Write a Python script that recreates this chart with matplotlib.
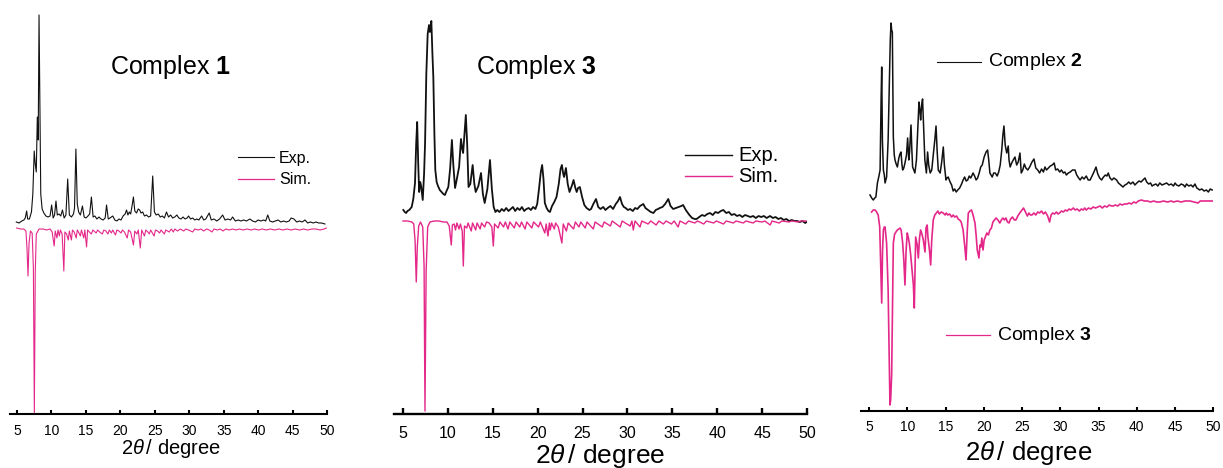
import numpy as np
import matplotlib
matplotlib.use("Agg")
import matplotlib.pyplot as plt
from matplotlib.lines import Line2D

plt.rcParams['font.family'] = ['Liberation Sans', 'DejaVu Sans']
plt.rcParams['mathtext.fontset'] = 'custom'
plt.rcParams['mathtext.rm'] = 'Liberation Sans'
plt.rcParams['mathtext.it'] = 'Liberation Sans:italic'
plt.rcParams['mathtext.bf'] = 'Liberation Sans:bold'

# ---- données (2theta, intensité relative) ----
ticks = [5, 10, 15, 20, 25, 30, 35, 40, 45, 50]

# Complex 1 : expérimental
exp1 = [(4.9, 2), (5.3, 1), (5.7, 3), (6.0, 4), (6.2, 6), (6.4, 13), (6.55, 5), (6.8, 5), (7.1, 12),
        (7.3, 30), (7.5, 73), (7.65, 60), (7.8, 52), (7.95, 107), (8.08, 84), (8.2, 209), (8.32, 120),
        (8.45, 30), (8.65, 15), (8.9, 11), (9.2, 8), (9.5, 7), (9.8, 8), (10.03, 19), (10.25, 6),
        (10.45, 9), (10.66, 23), (10.85, 9), (11.1, 10), (11.35, 8), (11.6, 14), (11.85, 6), (12.1, 9),
        (12.36, 45), (12.6, 9), (12.9, 7), (13.2, 10), (13.35, 16), (13.55, 75), (13.75, 20), (13.95, 12),
        (14.2, 9), (14.5, 18), (14.75, 7), (15.0, 6), (15.3, 8), (15.55, 10), (15.8, 27), (16.05, 7),
        (16.3, 8), (16.6, 5), (16.9, 7), (17.2, 5), (17.5, 4), (17.8, 6), (18.0, 19), (18.25, 5),
        (18.5, 6), (18.9, 8), (19.2, 4), (19.5, 3), (19.8, 5), (20.1, 4), (20.4, 8), (20.7, 10),
        (20.9, 14), (21.1, 9), (21.3, 12), (21.5, 10), (21.7, 18), (21.9, 27), (22.1, 13), (22.35, 11),
        (22.6, 15), (22.8, 14), (23.0, 11), (23.25, 12), (23.5, 8), (23.8, 9), (24.1, 7), (24.4, 8),
        (24.7, 48), (24.95, 12), (25.2, 9), (25.5, 10), (25.8, 7), (26.1, 8), (26.4, 6), (26.7, 12),
        (27.0, 7), (27.3, 9), (27.6, 6), (27.9, 7), (28.2, 9), (28.5, 6), (28.8, 5), (29.1, 7),
        (29.4, 5), (29.7, 6), (29.9, 8), (30.2, 5), (30.5, 6), (30.8, 4), (31.1, 5), (31.4, 4),
        (31.8, 8), (32.1, 4), (32.4, 5), (32.9, 11), (33.2, 4), (33.6, 5), (34.0, 3), (34.4, 5),
        (34.85, 9), (35.2, 4), (35.6, 5), (36.0, 4), (36.3, 7), (36.7, 3), (37.1, 4), (37.5, 3),
        (37.9, 4), (38.3, 3), (38.8, 5), (39.2, 3), (39.6, 2), (40.0, 4), (40.4, 3), (40.8, 4),
        (41.1, 3), (41.4, 9), (41.7, 3), (42.1, 2), (42.5, 3), (42.9, 4), (43.3, 2), (43.7, 3),
        (44.1, 2), (44.5, 3), (44.8, 6), (45.2, 5), (45.6, 2), (46.0, 3), (46.4, 2), (46.8, 4),
        (47.2, 1), (47.6, 2), (48.0, 1), (48.4, 2), (48.8, 1), (49.2, 1), (49.7, 0)]

# Complex 1 : simulé
sim1 = [(4.95, 0), (5.5, 1), (6.0, 1), (6.3, 3), (6.45, 20), (6.6, 48), (6.75, 15), (6.95, 3), (7.2, 5),
        (7.38, 40), (7.52, 185), (7.65, 45), (7.8, 6), (8.2, 1), (8.8, 1), (9.3, 2), (9.8, 1), (10.1, 4),
        (10.4, 18), (10.55, 3), (10.8, 10), (10.95, 2), (11.15, 8), (11.3, 2), (11.55, 6), (11.8, 43),
        (11.95, 4), (12.2, 6), (12.45, 12), (12.6, 3), (12.9, 12), (13.05, 2), (13.3, 4), (13.6, 10),
        (13.75, 2), (14.0, 5), (14.2, 8), (14.35, 2), (14.7, 10), (14.85, 2), (15.1, 19), (15.25, 2),
        (15.5, 4), (15.8, 6), (16.0, 2), (16.5, 5), (16.7, 2), (17.0, 4), (17.4, 6), (17.6, 2),
        (17.9, 3), (18.2, 6), (18.4, 2), (18.7, 5), (18.9, 2), (19.3, 7), (19.5, 2), (19.8, 3),
        (20.1, 5), (20.3, 2), (20.6, 4), (21.0, 10), (21.2, 2), (21.5, 4), (21.9, 17), (22.1, 3),
        (22.4, 6), (22.6, 2), (22.9, 20), (23.1, 2), (23.5, 8), (23.7, 2), (24.0, 4), (24.2, 6),
        (24.4, 2), (24.9, 8), (25.1, 2), (25.4, 3), (25.7, 5), (25.9, 2), (26.4, 6), (26.6, 2),
        (27.1, 4), (27.4, 1), (27.7, 4), (27.9, 1), (28.3, 3), (28.7, 1), (29.2, 3), (29.5, 1),
        (29.9, 2), (30.5, 4), (30.8, 1), (31.3, 2), (31.7, 1), (32.1, 3), (32.5, 1), (32.9, 2),
        (33.3, 4), (33.6, 1), (34.1, 2), (34.5, 1), (34.9, 3), (35.3, 1), (35.8, 2), (36.3, 1),
        (36.8, 2), (37.3, 1), (37.8, 2), (38.4, 1), (39.0, 2), (39.5, 1), (40.1, 2), (40.6, 1),
        (41.2, 2), (41.8, 1), (42.4, 2), (43.0, 1), (43.6, 2), (44.2, 1), (44.8, 2), (45.4, 1),
        (46.0, 2), (46.6, 1), (47.2, 2), (47.8, 1), (48.4, 1), (49.0, 2), (49.6, 1), (49.9, 0)]

# Complex 3 : expérimental
exp3 = [(5.04, 14), (5.2, 12), (5.35, 11), (5.5, 13), (5.7, 14), (5.97, 17), (6.15, 25), (6.34, 41),
        (6.47, 80), (6.58, 102), (6.7, 60), (6.8, 32), (6.92, 42), (7.02, 38), (7.2, 24), (7.35, 50),
        (7.46, 81), (7.6, 150), (7.75, 190), (7.9, 199), (8.0, 192), (8.16, 203), (8.28, 170),
        (8.38, 147), (8.5, 90), (8.6, 54), (8.75, 42), (8.9, 38), (9.1, 34), (9.3, 32), (9.5, 30),
        (9.67, 29), (9.85, 33), (10.05, 37), (10.25, 55), (10.45, 84), (10.6, 60), (10.8, 36),
        (11.0, 45), (11.25, 57), (11.46, 85), (11.6, 75), (11.7, 71), (11.85, 90), (12.0, 109),
        (12.15, 80), (12.3, 37), (12.5, 40), (12.76, 59), (12.95, 40), (13.1, 32), (13.4, 38),
        (13.69, 51), (13.9, 30), (14.1, 21), (14.4, 35), (14.69, 64), (14.9, 35), (15.1, 17),
        (15.3, 12), (15.5, 14), (15.75, 12), (16.0, 15), (16.25, 13), (16.5, 16), (16.75, 13),
        (17.0, 15), (17.25, 17), (17.5, 13), (17.75, 16), (18.0, 14), (18.25, 17), (18.5, 13),
        (18.75, 15), (19.0, 16), (19.25, 14), (19.5, 17), (19.75, 15), (19.95, 20), (20.15, 35),
        (20.35, 52), (20.5, 59), (20.65, 45), (20.8, 21), (21.0, 16), (21.2, 13), (21.37, 12),
        (21.6, 18), (21.85, 22), (22.1, 27), (22.35, 40), (22.55, 55), (22.7, 59), (22.85, 50),
        (22.95, 47), (23.15, 56), (23.35, 40), (23.55, 32), (23.8, 38), (24.0, 44), (24.2, 36),
        (24.35, 32), (24.5, 36), (24.7, 37), (24.95, 27), (25.2, 19), (25.45, 16), (25.76, 14),
        (25.95, 15), (26.2, 20), (26.5, 25), (26.75, 17), (27.0, 15), (27.3, 17), (27.55, 14),
        (27.8, 16), (28.1, 18), (28.4, 15), (28.7, 20), (28.95, 23), (29.17, 27), (29.4, 20),
        (29.6, 17), (29.8, 16), (30.05, 14), (30.3, 15), (30.6, 13), (30.85, 16), (31.1, 15),
        (31.4, 18), (31.77, 20), (32.0, 16), (32.3, 14), (32.6, 12), (32.9, 11), (33.15, 14),
        (33.4, 15), (33.6, 16), (33.9, 17), (34.2, 20), (34.55, 25), (34.8, 18), (35.1, 15),
        (35.4, 16), (35.7, 17), (36.0, 18), (36.2, 19), (36.5, 14), (36.9, 9), (37.2, 6), (37.5, 5),
        (37.7, 5), (38.0, 7), (38.3, 9), (38.6, 8), (38.9, 10), (39.2, 11), (39.5, 9), (39.8, 12),
        (40.1, 11), (40.4, 13), (40.68, 14), (41.0, 11), (41.3, 12), (41.6, 9), (41.9, 10), (42.2, 8),
        (42.5, 9), (42.8, 7), (43.1, 9), (43.4, 8), (43.7, 7), (44.0, 8), (44.3, 6), (44.6, 8),
        (44.9, 7), (45.2, 8), (45.5, 6), (45.88, 8), (46.2, 6), (46.5, 7), (46.8, 5), (47.1, 6),
        (47.4, 4), (47.7, 5), (48.0, 3), (48.3, 4), (48.6, 3), (48.9, 3), (49.2, 2), (49.5, 3),
        (49.8, 1), (49.95, 2)]

# Complex 3 : simulé
sim3 = [(5.0, 0), (5.5, 0), (6.0, 1), (6.2, 3), (6.35, 20), (6.48, 61), (6.6, 25), (6.75, 5), (6.95, 1),
        (7.2, 6), (7.35, 45), (7.45, 190), (7.58, 50), (7.75, 6), (8.0, 1), (8.5, 0), (9.0, 0),
        (9.5, 1), (9.9, 1), (10.15, 5), (10.38, 24), (10.5, 4), (10.7, 3), (10.85, 9), (11.0, 2),
        (11.25, 8), (11.4, 3), (11.6, 10), (11.72, 45), (11.85, 5), (12.1, 7), (12.25, 2), (12.6, 10),
        (12.75, 2), (13.1, 9), (13.25, 2), (13.6, 8), (13.75, 2), (14.1, 6), (14.3, 1), (14.6, 2),
        (14.9, 6), (15.06, 25), (15.2, 3), (15.6, 7), (15.8, 1), (16.2, 6), (16.4, 1), (16.7, 8),
        (16.9, 1), (17.4, 7), (17.6, 1), (18.0, 6), (18.2, 1), (18.6, 8), (18.8, 1), (19.35, 7),
        (19.55, 1), (20.1, 6), (20.3, 1), (20.8, 12), (20.95, 3), (21.15, 15), (21.3, 2), (21.4, 9),
        (21.55, 2), (21.85, 8), (22.0, 2), (22.3, 6), (22.5, 14), (22.7, 22), (22.85, 3), (23.2, 10),
        (23.4, 2), (24.0, 8), (24.2, 1), (24.6, 6), (24.8, 1), (25.3, 7), (25.5, 1), (26.2, 8),
        (26.4, 1), (27.2, 6), (27.4, 1), (28.1, 5), (28.3, 0), (29.2, 6), (29.4, 0), (30.3, 5),
        (30.5, 0), (30.65, 9), (30.85, 0), (31.4, 6), (31.6, 0), (32.3, 3), (32.6, 0), (33.2, 4),
        (33.5, 0), (34.0, 3), (34.3, 0), (34.9, 3), (35.2, 0), (35.65, 6), (35.85, 0), (36.5, 3),
        (36.8, 0), (37.5, 2), (37.8, 0), (38.5, 3), (38.8, 0), (39.6, 2), (39.9, 0), (40.7, 3),
        (41.0, 0), (41.8, 2), (42.1, 0), (42.9, 2), (43.2, 0), (44.0, 2), (44.3, 0), (45.0, 1),
        (45.3, 0), (45.9, 4), (46.1, 0), (46.9, 2), (47.2, 0), (48.0, 1), (48.3, 0), (49.0, 1),
        (49.3, 0), (49.9, 0)]

# Complex 2 : expérimental
exp2 = [(5.13, 5), (5.35, 2), (5.56, 0), (5.75, 2), (5.9, 3), (6.1, 17), (6.3, 24), (6.45, 30),
        (6.58, 100), (6.66, 133), (6.75, 60), (6.88, 30), (7.0, 25), (7.1, 17), (7.3, 23), (7.5, 60),
        (7.66, 117), (7.78, 160), (7.88, 177), (7.96, 170), (8.05, 168), (8.18, 63), (8.3, 45),
        (8.4, 40), (8.55, 36), (8.71, 33), (8.9, 42), (9.05, 46), (9.18, 48), (9.3, 36), (9.4, 30),
        (9.55, 32), (9.7, 37), (9.9, 45), (10.05, 62), (10.2, 40), (10.3, 48), (10.49, 75), (10.6, 50),
        (10.7, 33), (10.85, 30), (11.0, 27), (11.2, 40), (11.4, 75), (11.53, 98), (11.65, 90),
        (11.75, 80), (11.88, 95), (12.0, 101), (12.15, 70), (12.3, 40), (12.5, 27), (12.66, 48),
        (12.8, 35), (13.0, 27), (13.2, 30), (13.4, 45), (13.6, 60), (13.76, 74), (13.9, 50),
        (14.05, 30), (14.3, 27), (14.5, 38), (14.71, 53), (14.85, 35), (15.06, 20), (15.2, 22),
        (15.35, 23), (15.6, 18), (15.8, 15), (16.0, 9), (16.2, 11), (16.4, 8), (16.6, 10),
        (16.85, 12), (17.1, 16), (17.3, 20), (17.5, 23), (17.7, 19), (17.9, 20), (18.1, 24),
        (18.3, 22), (18.6, 27), (18.8, 24), (19.0, 20), (19.2, 22), (19.4, 27), (19.6, 33),
        (19.8, 35), (20.05, 43), (20.3, 48), (20.5, 50), (20.65, 40), (20.8, 27), (20.95, 25),
        (21.1, 23), (21.3, 27), (21.5, 27), (21.75, 24), (21.95, 28), (22.15, 35), (22.35, 50),
        (22.5, 65), (22.64, 74), (22.8, 55), (23.0, 47), (23.2, 54), (23.3, 40), (23.45, 33),
        (23.65, 37), (23.85, 40), (24.08, 43), (24.3, 35), (24.5, 38), (24.73, 47), (24.9, 27),
        (25.1, 30), (25.3, 36), (25.5, 32), (25.75, 30), (26.0, 33), (26.3, 38), (26.56, 41),
        (26.8, 32), (27.05, 30), (27.3, 27), (27.55, 31), (27.8, 28), (28.0, 33), (28.2, 30),
        (28.45, 32), (28.7, 34), (28.95, 35), (29.2, 37), (29.4, 30), (29.65, 31), (29.93, 28),
        (30.15, 30), (30.4, 27), (30.6, 28), (30.8, 25), (31.05, 27), (31.3, 28), (31.6, 30),
        (31.92, 30), (32.15, 25), (32.4, 22), (32.6, 20), (32.85, 23), (33.1, 21), (33.4, 24),
        (33.65, 20), (33.9, 20), (34.15, 24), (34.4, 28), (34.67, 33), (34.9, 26), (35.15, 22),
        (35.4, 20), (35.65, 23), (35.9, 25), (36.1, 24), (36.27, 27), (36.5, 22), (36.75, 20),
        (37.0, 22), (37.36, 20), (37.6, 17), (37.9, 15), (38.2, 13), (38.45, 15), (38.7, 16),
        (38.95, 18), (39.2, 16), (39.5, 18), (39.75, 15), (40.0, 17), (40.3, 19), (40.55, 18),
        (40.8, 20), (41.07, 22), (41.3, 18), (41.55, 16), (41.8, 17), (42.0, 14), (42.2, 15),
        (42.5, 16), (42.75, 14), (43.0, 17), (43.3, 15), (43.6, 16), (43.9, 17), (44.2, 15),
        (44.5, 16), (44.8, 14), (45.0, 17), (45.2, 15), (45.5, 14), (45.8, 16), (46.1, 15),
        (46.3, 13), (46.5, 16), (46.8, 14), (47.1, 15), (47.35, 13), (47.6, 16), (47.85, 12),
        (48.05, 11), (48.2, 10), (48.5, 11), (48.8, 9), (49.1, 10), (49.35, 8), (49.6, 11), (49.86, 10)]

# Complex 3 (comparaison, 3e panneau)
cmp3 = [(5.34, 12), (5.55, 10), (5.8, 10), (6.0, 12), (6.2, 15), (6.4, 27), (6.55, 70), (6.66, 103),
        (6.77, 50), (6.88, 30), (7.0, 27), (7.1, 27), (7.3, 43), (7.5, 90), (7.65, 160), (7.74, 205),
        (7.83, 200), (7.96, 175), (8.05, 120), (8.18, 43), (8.35, 34), (8.53, 32), (8.7, 30),
        (8.9, 29), (9.05, 28), (9.2, 30), (9.4, 43), (9.55, 60), (9.7, 85), (9.85, 50), (10.0, 33),
        (10.15, 38), (10.27, 43), (10.45, 55), (10.66, 73), (10.8, 85), (10.92, 108), (11.02, 70),
        (11.1, 37), (11.3, 45), (11.45, 58), (11.6, 38), (11.75, 30), (11.95, 35), (12.1, 40),
        (12.32, 52), (12.45, 28), (12.6, 25), (12.7, 37), (12.9, 50), (13.06, 65), (13.2, 40),
        (13.4, 20), (13.6, 15), (13.8, 13), (14.0, 11), (14.2, 14), (14.45, 12), (14.7, 13),
        (14.95, 15), (15.1, 13), (15.3, 15), (15.55, 14), (15.8, 17), (16.0, 15), (16.2, 17),
        (16.45, 16), (16.65, 19), (16.85, 20), (17.05, 22), (17.3, 30), (17.5, 45), (17.68, 60),
        (17.85, 30), (17.98, 13), (18.2, 11), (18.4, 10), (18.6, 15), (18.85, 23), (19.0, 35),
        (19.15, 50), (19.37, 58), (19.5, 45), (19.63, 47), (19.75, 38), (19.9, 50), (20.05, 40),
        (20.2, 37), (20.4, 33), (20.6, 35), (20.8, 30), (21.0, 28), (21.2, 22), (21.4, 20),
        (21.6, 18), (21.85, 20), (22.1, 23), (22.3, 20), (22.5, 18), (22.7, 20), (22.9, 18),
        (23.1, 22), (23.3, 23), (23.5, 19), (23.75, 17), (24.0, 20), (24.2, 20), (24.45, 16),
        (24.7, 13), (25.0, 10), (25.2, 8), (25.45, 12), (25.7, 16), (25.9, 13), (26.1, 15),
        (26.3, 15), (26.55, 13), (26.8, 15), (27.05, 12), (27.3, 13), (27.55, 11), (27.8, 14),
        (28.05, 12), (28.35, 16), (28.6, 22), (28.8, 15), (29.0, 13), (29.25, 14), (29.5, 12),
        (29.7, 14), (29.9, 13), (30.15, 11), (30.4, 12), (30.65, 10), (30.9, 11), (31.15, 9),
        (31.4, 10), (31.7, 8), (31.95, 10), (32.2, 9), (32.5, 11), (32.75, 9), (33.0, 10), (33.2, 8),
        (33.4, 10), (33.7, 8), (34.0, 9), (34.3, 7), (34.6, 8), (34.9, 7), (35.2, 6), (35.5, 8),
        (35.8, 6), (36.1, 7), (36.4, 5), (36.7, 6), (36.9, 6), (37.2, 5), (37.5, 6), (37.8, 4),
        (38.1, 5), (38.4, 4), (38.7, 4), (39.0, 3), (39.3, 4), (39.6, 2), (39.9, 3), (40.2, 1),
        (40.6, 0), (41.0, 1), (41.4, 1), (41.8, 2), (42.2, 1), (42.6, 2), (43.0, 2), (43.5, 1),
        (44.0, 2), (44.5, 1), (44.8, 2), (45.3, 1), (45.8, 2), (46.3, 1), (46.96, 1), (47.5, 2),
        (48.0, 3), (48.3, 1), (48.8, 1), (49.1, 1), (49.5, 1), (50.0, 1)]

# ---- mise en page (pixels de l'image d'origine) ----
W, H = 1223, 468
BLACK = '#111111'
PINK = '#e4288a'

fig = plt.figure(figsize=(W / 100, H / 100), dpi=100)


def fxy(px, py):
    return px / W, 1 - py / H


def make_axes(x0, x1, y_axis, tick_size, pad, lw, tlen):
    ax = fig.add_axes([x0 / W, 1 - y_axis / H, (x1 - x0) / W, 404 / H])
    ax.set_xlim(4, 50)
    ax.set_ylim(0, 404)
    for s in ['left', 'right', 'top']:
        ax.spines[s].set_visible(False)
    ax.spines['bottom'].set_linewidth(lw)
    ax.set_yticks([])
    ax.set_xticks(ticks)
    ax.tick_params(axis='x', direction='in', length=tlen, width=lw,
                   labelsize=tick_size, pad=pad)
    ax.patch.set_alpha(0)
    return ax


def trace(ax, pts, offset, sign, color, lw):
    a = np.array(pts, dtype=float)
    ax.plot(a[:, 0], offset + sign * a[:, 1], color=color, lw=lw)


def legend_line(x0, x1, y, color, lw=1.0):
    (fx0, fy), (fx1, _) = fxy(x0, y), fxy(x1, y)
    fig.add_artist(Line2D([fx0, fx1], [fy, fy], color=color, lw=lw))


xlabel = r"$\mathit{2\theta}\,$/ degree"

# Panneau 1 : Complex 1
ax1 = make_axes(10.1, 327, 414, 10, 7, 1.5, 3.2)
trace(ax1, exp1, 190, 1, BLACK, 0.8)
trace(ax1, sim1, 186, -1, PINK, 0.8)
fig.text(*fxy(110, 67), "Complex $\\mathbf{1}$", fontsize=18, ha='left', va='center')
legend_line(238, 274, 157, BLACK, 0.8)
legend_line(238, 274, 179, PINK, 0.9)
fig.text(*fxy(279, 158), "Exp.", fontsize=11.5, ha='left', va='center')
fig.text(*fxy(279, 180), "Sim.", fontsize=11.5, ha='left', va='center')
fig.text(*fxy(171, 449), xlabel, fontsize=14.5, ha='center', va='center')

# Panneau 2 : Complex 3
ax2 = make_axes(394.0, 807, 414, 11.5, 9, 1.7, 4)
trace(ax2, exp3, 190, 1, BLACK, 1.3)
trace(ax2, sim3, 193, -1, PINK, 1.0)
fig.text(*fxy(476, 67), "Complex $\\mathbf{3}$", fontsize=18, ha='left', va='center')
legend_line(685, 732, 155, BLACK, 1.0)
legend_line(685, 732, 176, PINK, 1.0)
fig.text(*fxy(738, 156), "Exp.", fontsize=14.5, ha='left', va='center')
fig.text(*fxy(738, 177), "Sim.", fontsize=14.5, ha='left', va='center')
fig.text(*fxy(600, 456), xlabel, fontsize=19, ha='center', va='center')

# Panneau 3 : Complex 2 vs Complex 3
ax3 = make_axes(861.35, 1213.3, 411, 10, 6.5, 1.5, 3.2)
trace(ax3, exp2, 211, 1, BLACK, 1.1)
trace(ax3, cmp3, 211, -1, PINK, 1.2)
legend_line(937, 981, 62, BLACK, 0.8)
fig.text(*fxy(988, 62), "Complex $\\mathbf{2}$", fontsize=14, ha='left', va='center')
legend_line(946, 990, 335, PINK, 0.9)
fig.text(*fxy(997, 335), "Complex $\\mathbf{3}$", fontsize=14, ha='left', va='center')
fig.text(*fxy(1029, 453), xlabel, fontsize=18.5, ha='center', va='center')

fig.savefig("out.png", dpi=100)
